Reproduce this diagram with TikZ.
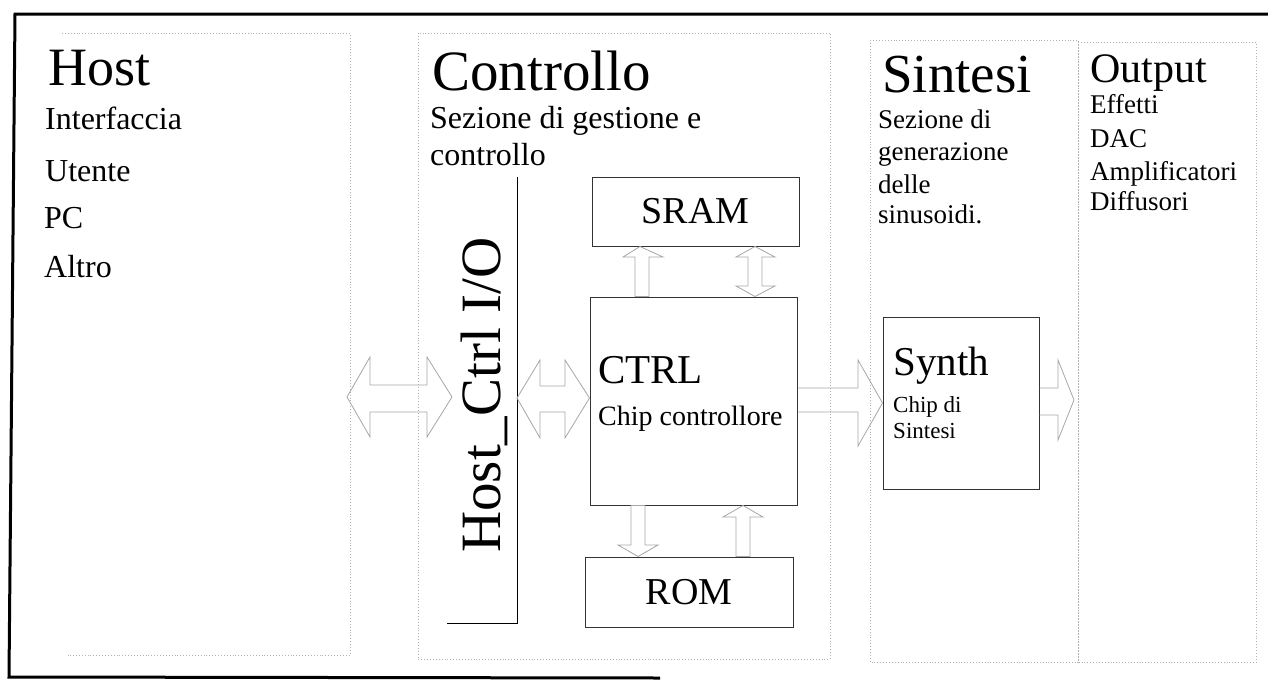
\documentclass[tikz,border=0pt]{standalone}
\usepackage{fontspec}
\setmainfont{Liberation Serif}
\newcommand{\fsz}[1]{\fontsize{#1}{#1}\selectfont}
\begin{document}
\begin{tikzpicture}[x=1pt,y=-1pt,
  lbl/.style={inner sep=0pt, anchor=base west, text=black},
  sect/.style={draw=gray!60, dotted, line width=0.9pt},
  blk/.style={draw=black!80, line width=1pt, inner sep=0pt},
  barrow/.style={draw=gray!70, line width=0.8pt, line join=miter},
  frame/.style={draw=black, line width=3pt}
]
\useasboundingbox (0,0) rectangle (1268,680);
% outer frame
\draw[frame] (1268,14) -- (15,14) -- (9,677) -- (660,678);
% section boxes
\draw[sect] (62,33) -- (350,33) -- (350,655) -- (68,655);
\draw[sect] (418,33) rectangle (830,659);
\draw[sect] (870,40) rectangle (1078,662);
\draw[sect] (1078,42) rectangle (1256,662);
% section texts
\node[lbl,font=\fsz{54}] (host) at (48,85) {Host};
\node[lbl,font=\fsz{32}] (h1) at (45,129) {Interfaccia};
\node[lbl,font=\fsz{32}] (h2) at (45,181) {Utente};
\node[lbl,font=\fsz{32}] (h3) at (44,228) {PC};
\node[lbl,font=\fsz{32}] (h4) at (44,277) {Altro};
\node[lbl,font=\fsz{57}] (contr) at (432,90) {Controllo};
\node[lbl,font=\fsz{32}] (c1) at (430,128) {Sezione di gestione e};
\node[lbl,font=\fsz{32}] (c2) at (430,165) {controllo};
\node[lbl,font=\fsz{55}] (sint) at (882,92) {Sintesi};
\node[lbl,font=\fsz{27}] (s1) at (878,128) {Sezione di};
\node[lbl,font=\fsz{27}] (s2) at (878,160) {generazione};
\node[lbl,font=\fsz{27}] (s3) at (878,193) {delle};
\node[lbl,font=\fsz{27}] (s4) at (878,223) {sinusoidi.};
\node[lbl,font=\fsz{42}] (outp) at (1090,82) {Output};
\node[lbl,font=\fsz{27}] (o1) at (1090,113) {Effetti};
\node[lbl,font=\fsz{27}] (o2) at (1090,147) {DAC};
\node[lbl,font=\fsz{27}] (o3) at (1090,180) {Amplificatori};
\node[lbl,font=\fsz{27}] (o4) at (1090,210) {Diffusori};
% blocks
\node[blk,minimum width=207pt,minimum height=69pt,font=\fsz{38}] (sram) at (695.5,211.5) {SRAM};
\node[blk,minimum width=207pt,minimum height=208pt] (ctrl) at (693.5,401) {};
\node[blk,minimum width=208pt,minimum height=70pt,font=\fsz{38}] (rom) at (689,592) {ROM};
\node[blk,minimum width=156pt,minimum height=172pt] (synth) at (961,403) {};
\node[lbl,font=\fsz{41}] (ctrlt) at (598,383) {CTRL};
\node[lbl,font=\fsz{28}] (ctrls) at (598,425) {Chip controllore};
\node[lbl,font=\fsz{41}] (syt) at (893,375) {Synth};
\node[lbl,font=\fsz{23}] (sy1) at (893,412) {Chip di};
\node[lbl,font=\fsz{23}] (sy2) at (893,438) {Sintesi};
% Host_Ctrl I/O bus
\node[lbl,rotate=90,font=\fsz{57}] (hcio) at (500,553) {Host\_Ctrl I/O};
\coordinate (bt) at (517,177);
\coordinate (bb) at (517,623);
\coordinate (bl) at (447,623);
\draw[line width=1pt] (bt) -- (bb) -- (bl);
% block arrows
% host <-> bus
\draw[barrow] (347,397) -- (370,357) -- (370,385) -- (427,385) -- (427,357) -- (452,397)
  -- (427,437) -- (427,412) -- (370,412) -- (370,437) -- cycle;
% bus <-> ctrl
\draw[barrow] (bt |- 0,398) -- (540,360) -- (540,386) -- (565,386) -- (565,360) -- (ctrl.west |- 0,398)
  -- (565,438) -- (565,412) -- (540,412) -- (540,438) -- cycle;
% ctrl -> sram
\draw[barrow] (640,0 |- sram.south) -- (663,257) -- (649,257) -- (649,0 |- ctrl.north) -- (635,0 |- ctrl.north)
  -- (635,257) -- (623,257) -- cycle;
% sram <-> ctrl
\draw[barrow] (755,0 |- sram.south) -- (775,257) -- (762,257) -- (762,286) -- (775,286) -- (755,0 |- ctrl.north)
  -- (736,286) -- (748,286) -- (748,257) -- (736,257) -- cycle;
% ctrl -> rom
\draw[barrow] (638,0 |- rom.north) -- (658,545) -- (645,545) -- (645,0 |- ctrl.south) -- (631,0 |- ctrl.south)
  -- (631,545) -- (618,545) -- cycle;
% rom -> ctrl
\draw[barrow] (743,0 |- ctrl.south) -- (763,517) -- (750,517) -- (750,0 |- rom.north) -- (736,0 |- rom.north)
  -- (736,517) -- (723,517) -- cycle;
% ctrl -> synth
\draw[barrow] (ctrl.east |- 0,388) -- (858,388) -- (858,360) -- (synth.west |- 0,403) -- (858,446)
  -- (858,412) -- (ctrl.east |- 0,412);
% synth -> output
\draw[barrow] (synth.east |- 0,388) -- (1058,388) -- (1058,360) -- (1074,400) -- (1058,440)
  -- (1058,415) -- (synth.east |- 0,415);
\end{tikzpicture}
\end{document}
